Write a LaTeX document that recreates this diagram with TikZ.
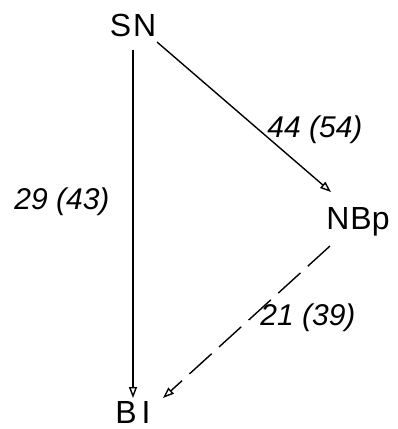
\documentclass[tikz,border=0pt]{standalone}
\usepackage{fontspec}
\setmainfont{Liberation Sans}
\usetikzlibrary{arrows.meta}
\begin{document}
\begin{tikzpicture}[x=1pt,y=-1pt,
  vert/.style={font=\fontsize{32}{34}\selectfont, inner sep=0pt, outer sep=0pt},
  lbl/.style={font=\fontsize{30}{32}\selectfont\itshape, inner sep=0pt},
  conn/.style={line width=1.4pt, -{Triangle[open,length=11pt,width=8pt]}}]
\useasboundingbox (0,0) rectangle (398,429);
\node[vert] (SN) at (133,25) {S\kern2pt N};
\node[vert] (NBp) at (358,222) {N\kern1pt Bp};
\node[vert] (BI) at (133,412) {B\kern5pt I};
\coordinate (snb) at (133,50);
\coordinate (bit) at (133,398);
\coordinate (sne) at (157,42);
\coordinate (nbw) at (331,192);
\coordinate (nbs) at (330,246);
\coordinate (bie) at (163,398);
\draw[conn] (snb) -- (bit);
\draw[conn] (sne) -- (nbw);
\draw[conn, dash pattern=on 30pt off 10pt] (nbs) -- (bie);
\node[lbl] (l1) at (315,130) {44 (54)};
\node[lbl] (l2) at (62,202) {29 (43)};
\node[lbl] (l3) at (308,318) {21 (39)};
\end{tikzpicture}
\end{document}
